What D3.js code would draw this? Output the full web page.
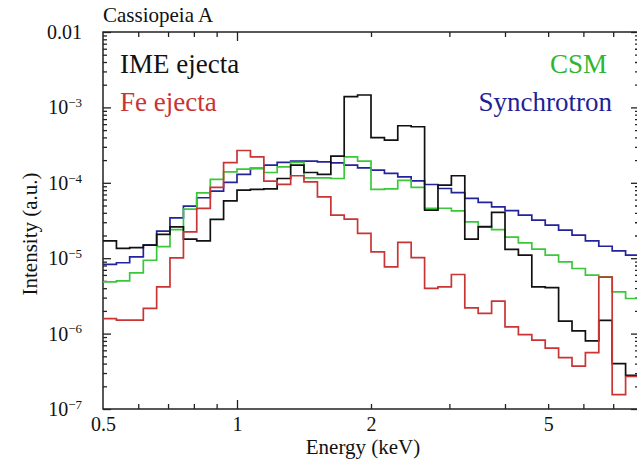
<!DOCTYPE html>
<html>
<head>
<meta charset="utf-8">
<script src="https://cdn.jsdelivr.net/npm/d3@7"></script>
<style>
body{margin:0;background:#fff;}
svg{display:block;}
svg text{font-family:"Liberation Serif","Times New Roman",Times,serif;}
</style>
</head>
<body>
<svg id="chart"></svg>
<script>
var width = 637;
var height = 466;
var margin = {top: 32, right: -2, bottom: 57, left: 103};
var serif = "'Liberation Serif', 'Times New Roman', Times, serif";

// energy bin edges (keV), 10 bins per octave
var binEdges = [0.5, 0.536, 0.574, 0.616, 0.660, 0.707, 0.758, 0.812, 0.871, 0.933,
    1.0, 1.072, 1.149, 1.231, 1.320, 1.414, 1.516, 1.625, 1.741, 1.866,
    2.0, 2.144, 2.297, 2.462, 2.639, 2.828, 3.031, 3.249, 3.482, 3.732,
    4.0, 4.287, 4.595, 4.925, 5.278, 5.657, 6.063, 6.498, 6.964, 7.464, 8.0];

// intensity per bin (a.u.)
var imeEjecta = [1.70e-5, 1.35e-5, 1.38e-5, 1.49e-5, 2.07e-5, 2.61e-5, 1.79e-5, 1.70e-5, 3.27e-5, 5.77e-5,
    8.0e-5, 8.2e-5, 8.3e-5, 1.14e-4, 1.72e-4, 1.37e-4, 1.29e-4, 2.26e-4, 1.39e-3, 1.46e-3,
    3.97e-4, 3.69e-4, 5.71e-4, 5.54e-4, 4.35e-5, 9.33e-5, 1.24e-4, 1.79e-5, 2.61e-5, 4.05e-5,
    1.31e-5, 1.10e-5, 4.17e-6, 4.07e-6, 1.46e-6, 1.09e-6, 8.0e-7, 1.5e-6, 4.0e-7, 2.8e-7];

var feEjecta = [1.58e-6, 1.51e-6, 1.51e-6, 2.16e-6, 4.17e-6, 1.01e-5, 2.24e-5, 4.57e-5, 8.69e-5, 1.85e-4,
    2.68e-4, 2.21e-4, 1.05e-4, 9.53e-5, 1.24e-4, 1.03e-4, 6.52e-5, 3.73e-5, 3.30e-5, 2.13e-5,
    1.21e-5, 7.67e-6, 1.62e-5, 1.02e-5, 3.97e-6, 4.17e-6, 6.08e-6, 2.19e-6, 1.85e-6, 2.69e-6,
    1.23e-6, 9.7e-7, 8.2e-7, 6.4e-7, 4.8e-7, 3.7e-7, 5.6e-7, 5.6e-6, 1.55e-7, 2.7e-7];

var csm = [4.85e-6, 5.0e-6, 6.4e-6, 9.4e-6, 1.42e-5, 2.40e-5, 4.48e-5, 7.37e-5, 1.11e-4, 1.40e-4,
    1.52e-4, 1.55e-4, 1.37e-4, 1.63e-4, 1.87e-4, 1.16e-4, 1.16e-4, 1.14e-4, 2.21e-4, 1.94e-4,
    8.2e-5, 8.3e-5, 1.08e-4, 8.7e-5, 4.6e-5, 4.6e-5, 4.25e-5, 3.03e-5, 2.64e-5, 2.39e-5,
    1.90e-5, 1.60e-5, 1.32e-5, 1.10e-5, 8.96e-6, 7.3e-6, 5.96e-6, 5.66e-6, 3.58e-6, 2.92e-6];

var synchrotron = [8.3e-6, 8.7e-6, 1.04e-5, 1.49e-5, 2.29e-5, 3.43e-5, 4.91e-5, 6.33e-5, 7.76e-5, 1.01e-4,
    1.29e-4, 1.55e-4, 1.72e-4, 1.87e-4, 1.94e-4, 1.94e-4, 1.90e-4, 1.84e-4, 1.72e-4, 1.58e-4,
    1.47e-4, 1.33e-4, 1.20e-4, 1.06e-4, 9.5e-5, 8.4e-5, 7.4e-5, 6.2e-5, 5.5e-5, 4.8e-5,
    4.28e-5, 3.72e-5, 3.20e-5, 2.75e-5, 2.36e-5, 2.02e-5, 1.70e-5, 1.44e-5, 1.25e-5, 1.10e-5];

// tick values
var xLabels = [0.5, 1, 2, 5];
var xMinor = [0.6, 0.7, 0.8, 0.9, 2, 3, 4, 5, 6, 7];
var xMajor = [1];
var yDecades = [1e-7, 1e-6, 1e-5, 1e-4, 1e-3, 1e-2];

var series = [
    {name: "Synchrotron", values: synchrotron, color: "#23239b"},
    {name: "CSM", values: csm, color: "#3ac83a"},
    {name: "IME ejecta", values: imeEjecta, color: "#111111"},
    {name: "Fe ejecta", values: feEjecta, color: "#c93434"}
];

var x = d3.scaleLog()
    .domain([0.5, 8])
    .range([margin.left, width - margin.right]);

var y = d3.scaleLog()
    .domain([1e-7, 1e-2])
    .range([height - margin.bottom, margin.top]);

var yMinor = [];
yDecades.slice(0, -1).forEach(function(d){
    for(var k = 2; k <= 9; k++) yMinor.push(d * k);
});

const svg = d3.select("#chart")
    .attr("width", width)
    .attr("height", height);

var x0 = x.range()[0], x1 = x.range()[1];
var y0 = y.range()[0], y1 = y.range()[1];

// tick marks, all pointing inward
function ticks(axis, vals, size){
    return axis.tickValues(vals).tickSize(-size).tickSizeOuter(0).tickFormat("");
}
function tickGroup(axis, tx, ty){
    svg.append("g")
        .attr("transform", `translate(${tx},${ty})`)
        .call(axis)
        .call(g => g.select(".domain").remove())
        .call(g => g.selectAll(".tick line").attr("stroke", "#222").attr("stroke-width", 1.3));
}
tickGroup(ticks(d3.axisBottom(x), xMinor, 5), 0, y0);
tickGroup(ticks(d3.axisBottom(x), xMajor, 9), 0, y0);
tickGroup(ticks(d3.axisTop(x), xMinor, 5), 0, y1);
tickGroup(ticks(d3.axisTop(x), xMajor, 9), 0, y1);
tickGroup(ticks(d3.axisLeft(y), yMinor, 4), x0, 0);
tickGroup(ticks(d3.axisLeft(y), yDecades, 8), x0, 0);
tickGroup(ticks(d3.axisRight(y), yMinor, 4), x1, 0);
tickGroup(ticks(d3.axisRight(y), yDecades, 8), x1, 0);

// x labels
svg.append("g")
    .attr("transform", `translate(0,${y0})`)
    .call(d3.axisBottom(x).tickValues(xLabels).tickSize(0).tickPadding(8).tickFormat(d3.format("")))
    .attr("font-family", serif)
    .call(g => g.select(".domain").remove())
    .call(g => g.selectAll(".tick text")
        .attr("font-family", serif)
        .attr("font-size", 20)
        .attr("fill", "#111"));

// y labels with superscript exponents
svg.append("g")
    .attr("transform", `translate(${x0},0)`)
    .call(d3.axisLeft(y).tickValues(yDecades).tickSize(0).tickPadding(21).tickFormat(""))
    .attr("font-family", serif)
    .call(g => g.select(".domain").remove())
    .call(g => g.selectAll(".tick text")
        .attr("font-family", serif)
        .attr("font-size", 20)
        .attr("fill", "#111")
        .each(function(d){
            var t = d3.select(this);
            var e = Math.round(Math.log10(d));
            if(e === -2){
                t.text("0.01");
            }else{
                t.append("tspan").text("10");
                t.append("tspan").attr("font-size", 13).attr("dy", "-0.55em").text("\u2212" + (-e));
            }
        }));

// frame
svg.append("rect")
    .attr("x", x0)
    .attr("y", y1)
    .attr("width", x1 - x0)
    .attr("height", y0 - y1)
    .attr("fill", "none")
    .attr("stroke", "#222")
    .attr("stroke-width", 1.5);

// step histograms
var line = d3.line()
    .x(d => x(d[0]))
    .y(d => y(d[1]))
    .curve(d3.curveStepAfter);

svg.append("g")
    .attr("fill", "none")
    .attr("stroke-width", 1.7)
    .selectAll("path")
    .data(series)
    .join("path")
    .attr("stroke", d => d.color)
    .attr("d", function(d){
        var pts = d.values.map((v, i) => [binEdges[i], v]);
        pts.push([binEdges[binEdges.length - 1], d.values[d.values.length - 1]]);
        return line(pts);
    });

// legend labels
var legend = [
    {name: "IME ejecta", x: 120, y: 73, anchor: "start", color: "#111111"},
    {name: "Fe ejecta", x: 120, y: 111, anchor: "start", color: "#c93434"},
    {name: "CSM", x: 607, y: 73, anchor: "end", color: "#2fb52f"},
    {name: "Synchrotron", x: 612, y: 111, anchor: "end", color: "#1f1f96"}
];
svg.append("g")
    .selectAll("text")
    .data(legend)
    .join("text")
    .attr("x", d => d.x)
    .attr("y", d => d.y)
    .attr("text-anchor", d => d.anchor)
    .attr("font-family", serif)
    .attr("font-size", 27)
    .attr("fill", d => d.color)
    .text(d => d.name);

// titles
svg.append("text")
    .attr("x", x0)
    .attr("y", 22)
    .attr("font-family", serif)
    .attr("font-size", 21)
    .attr("fill", "#111")
    .text("Cassiopeia A");

svg.append("text")
    .attr("x", 363)
    .attr("y", 454)
    .attr("text-anchor", "middle")
    .attr("font-family", serif)
    .attr("font-size", 21)
    .attr("fill", "#111")
    .text("Energy (keV)");

svg.append("text")
    .attr("transform", "translate(37,234) rotate(-90)")
    .attr("text-anchor", "middle")
    .attr("font-family", serif)
    .attr("font-size", 21)
    .attr("fill", "#111")
    .text("Intensity (a.u.)");
</script>
</body>
</html>
